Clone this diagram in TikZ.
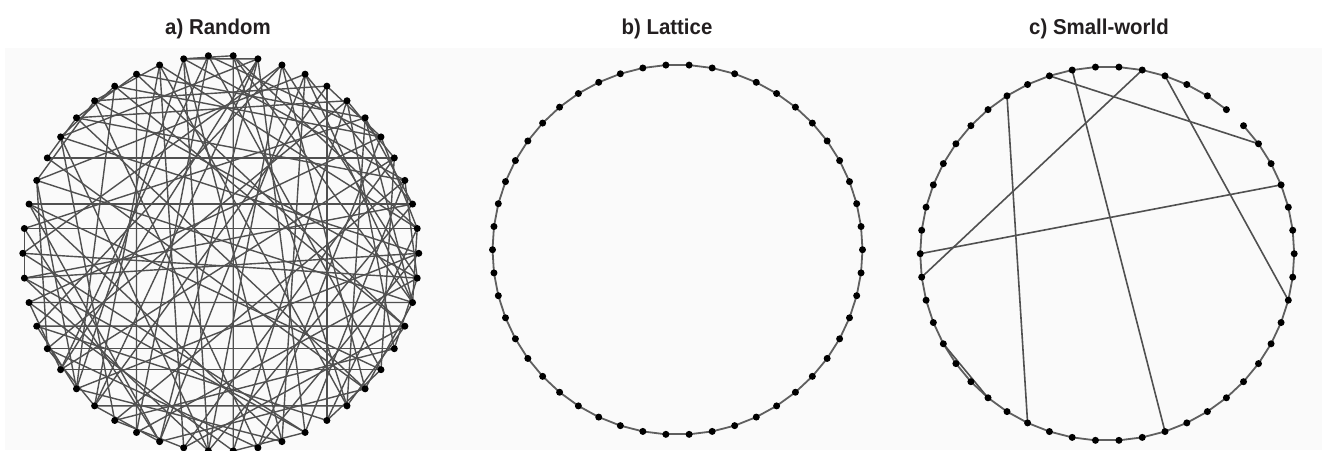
\documentclass[tikz,border=0pt]{standalone}
\usepackage{fontspec}
\setmainfont{Liberation Sans}
\definecolor{bggray}{RGB}{250,250,250}
\definecolor{edgegray}{RGB}{80,80,80}
\definecolor{ringgray}{RGB}{95,95,95}
\definecolor{titlecolor}{RGB}{35,31,32}
\pgfdeclarelayer{back}
\pgfdeclarelayer{edges}
\pgfsetlayers{back,edges,main}
\begin{document}
\begin{tikzpicture}[x=1pt,y=-1pt,
  dot/.style={circle,fill=black,draw=none,inner sep=0pt,minimum size=7pt},
  edge/.style={draw=edgegray,line width=1.4pt},
  ringedge/.style={draw=ringgray,line width=1.8pt},
  chord/.style={draw=edgegray,line width=1.6pt},
  title/.style={font=\fontsize{21.5}{21.5}\selectfont\bfseries,text=titlecolor,anchor=base,inner sep=0pt}]
\useasboundingbox (0,0) rectangle (1322,450);
\begin{pgfonlayer}{back}
  \fill[bggray] (5,48) rectangle (1322,450);
\end{pgfonlayer}

% titles
\node[title] (ta) at (218,34.3) {\scalebox{0.95}[1]{a) Random}};
\node[title] (tb) at (667,34.3) {\scalebox{0.95}[1]{b) Lattice}};
\node[title] (tc) at (1099,34.3) {\scalebox{0.95}[1]{c) Small-world}};

% nodes
\foreach \i in {0,...,49} {
  \node[dot] (a\i) at ({220.8+198*cos(180-7.2*\i)},{253.3-198*sin(180-7.2*\i)}) {};
  \node[dot] (b\i) at ({677.5+185*cos(180-7.2*\i)},{249.7-185*sin(180-7.2*\i)}) {};
  \node[dot] (c\i) at ({1107.2+187*cos(180-7.2*\i)},{253.7-187*sin(180-7.2*\i)}) {};
}

\begin{pgfonlayer}{edges}
% a) random graph
\foreach \u/\v in {9/41,13/37,17/33,16/35,4/21,47/28,46/29,1/24,2/23,48/27,
  1/49,11/14,11/13,0/26,4/6,5/8,6/9,3/7,7/10,17/20,18/21,19/23,20/24,22/26,
  24/27,26/29,27/31,28/32,30/33,43/46,44/47,40/43,39/42,45/48,34/37,
  0/15,0/34,1/19,2/30,2/40,3/16,3/27,3/44,4/31,5/14,5/25,5/38,6/22,6/31,
  7/17,7/36,8/20,8/28,8/44,9/19,10/32,10/39,11/22,11/35,12/30,12/41,12/45,
  13/24,13/27,14/34,14/43,15/26,15/38,15/47,16/23,16/40,18/29,18/37,18/46,
  19/32,20/36,20/48,21/39,21/45,22/34,22/42,23/38,23/49,24/33,25/36,25/44,
  26/41,28/39,29/42,30/45,31/40,32/43,33/47,34/49,35/44,36/46,37/48,38/49,
  1/40,2/35,5/42,10/43,11/44,14/45,3/46,25/49,19/27,21/30,9/28,10/24,6/18,
  7/26,12/20,15/31,17/43,13/32,16/27,11/38,14/40}
  \draw[edge] (a\u.center) -- (a\v.center);
% b) lattice ring
\foreach \i in {0,...,49} {
  \pgfmathtruncatemacro{\n}{mod(\i+1,50)}
  \draw[ringedge] (b\i.center) -- (b\n.center);
}
% c) small world ring (one link rewired away)
\foreach \i in {0,...,17,19,20,...,49} {
  \pgfmathtruncatemacro{\n}{mod(\i+1,50)}
  \draw[ringedge] (c\i.center) -- (c\n.center);
}
\foreach \u/\v in {10/20,14/49,11/35,8/41,15/27,0/22,43/46}
  \draw[chord] (c\u.center) -- (c\v.center);
\end{pgfonlayer}
\end{tikzpicture}
\end{document}
